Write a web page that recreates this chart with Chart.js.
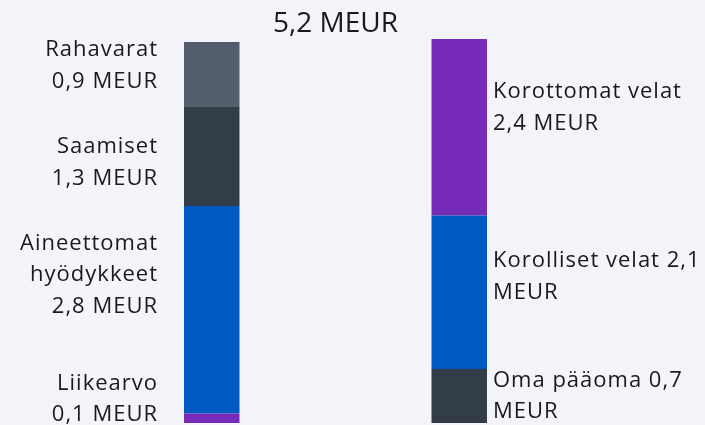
<!DOCTYPE html>
<html>
<head>
<meta charset="utf-8">
<script src="https://cdn.jsdelivr.net/npm/chart.js@4.4.1/dist/chart.umd.min.js"></script>
<style>
  html, body { margin: 0; padding: 0; background: #f4f5fa; }
  #wrap { width: 705px; height: 425px; position: relative; }
</style>
</head>
<body>
<div id="wrap"><canvas id="c"></canvas></div>
<script>
// ---- Data ----
const categories = ["Vastaavaa", "Vastattavaa"];
const totalLabel = "5,2 MEUR";
const yMax = 5.2;
// Left bar (assets), bottom to top
const assetNames = ["Liikearvo", "Aineettomat hyödykkeet", "Saamiset", "Rahavarat"];
const assetValues = [0.13, 2.81, 1.35, 0.87];
const assetLabelLines = [
  ["Liikearvo", "0,1 MEUR"],
  ["Aineettomat", "hyödykkeet", "2,8 MEUR"],
  ["Saamiset", "1,3 MEUR"],
  ["Rahavarat", "0,9 MEUR"]
];
// Right bar (liabilities), bottom to top
const liabNames = ["Oma pääoma", "Korolliset velat", "Korottomat velat"];
const liabValues = [0.73, 2.08, 2.39];
const liabLabelLines = [
  ["Oma pääoma 0,7", "MEUR"],
  ["Korolliset velat 2,1", "MEUR"],
  ["Korottomat velat", "2,4 MEUR"]
];

// ---- Styles ----
const assetColors = ["#772cb9", "#0058c2", "#333d47", "#525d6e"];
const liabColors = ["#333d47", "#0058c2", "#772cb9"];
// first-line baseline offset from segment centre (px)
const assetLabelOffsets = [-28.5, -60, -3, -18];
const liabLabelOffsets = [-9.5, -25, -29];
const FONT = "'Open Sans', 'Noto Sans', sans-serif";
const LABEL_SIZE = 22;
const LINE_H = 31.7;
const TEXT_COLOR = "#1a1a1a";

const datasets = [];
assetValues.forEach((v, i) => datasets.push({
  label: assetNames[i], data: [v, null], backgroundColor: assetColors[i],
  lines: assetLabelLines[i], side: "left", offset: assetLabelOffsets[i]
}));
liabValues.forEach((v, i) => datasets.push({
  label: liabNames[i], data: [null, v], backgroundColor: liabColors[i],
  lines: liabLabelLines[i], side: "right", offset: liabLabelOffsets[i]
}));
datasets.forEach(d => { d.borderWidth = 0; d.barPercentage = 0.2242; d.categoryPercentage = 1; });

const labelPlugin = {
  id: "segLabels",
  afterDatasetsDraw(chart) {
    const ctx = chart.ctx;
    ctx.save();
    ctx.fillStyle = TEXT_COLOR;
    ctx.font = `${LABEL_SIZE}px ${FONT}`;
    if ('letterSpacing' in ctx) ctx.letterSpacing = "1px";
    ctx.textBaseline = "alphabetic";
    chart.data.datasets.forEach((ds, di) => {
      const meta = chart.getDatasetMeta(di);
      const idx = ds.side === "left" ? 0 : 1;
      const el = meta.data[idx];
      if (!el) return;
      const props = el.getProps(["x", "y", "base", "width"], true);
      const cy = (props.y + props.base) / 2;
      let x;
      if (ds.side === "left") { ctx.textAlign = "right"; x = props.x - props.width / 2 - 26; }
      else { ctx.textAlign = "left"; x = props.x + props.width / 2 + 6; }
      ds.lines.forEach((t, li) => ctx.fillText(t, x, cy + ds.offset + li * LINE_H));
    });
    // total title centred over chart area
    ctx.textAlign = "center";
    ctx.font = `28px ${FONT}`;
    if ('letterSpacing' in ctx) ctx.letterSpacing = "0px";
    const ca = chart.chartArea;
    ctx.fillText(totalLabel, (ca.left + ca.right) / 2, 32);
    ctx.restore();
  }
};

new Chart(document.getElementById("c"), {
  type: "bar",
  data: { labels: categories, datasets },
  options: {
    responsive: true,
    maintainAspectRatio: false,
    animation: false,
    layout: { padding: { left: 88, right: 122, top: 39, bottom: 2 } },
    plugins: { legend: { display: false }, title: { display: false }, tooltip: { enabled: false } },
    scales: {
      x: { stacked: true, display: false },
      y: { stacked: true, display: false, min: 0, max: yMax }
    }
  },
  plugins: [labelPlugin]
});
</script>
</body>
</html>
